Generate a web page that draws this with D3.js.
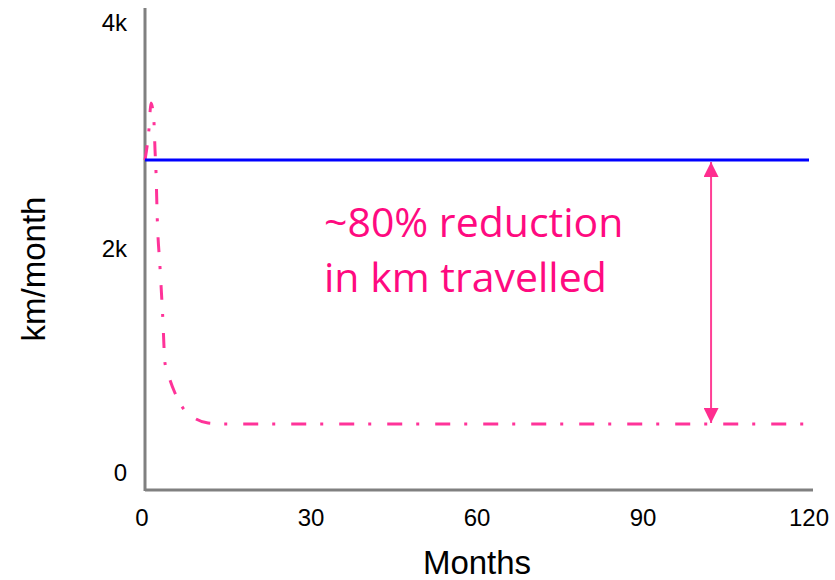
<!DOCTYPE html>
<meta charset="utf-8">
<style>
    body {margin: 0; background: #fff;}
    svg text {font-family: 'Liberation Sans', Arial, sans-serif;}
</style>
<svg width="835" height="580"></svg>
<script src="https://d3js.org/d3.v7.min.js"></script>
<script>

// baseline (before) travel, km/month
var baselineMonths = [0, 120];
var baselineKm = [2739, 2739];

// after the change: short spike, then drops to a plateau
var afterMonths = [0, 0.72, 1.08, 1.63, 1.81, 1.99, 2.22, 2.71, 3.19, 3.61, 4.52, 5.42, 6.87, 9.22, 11.39, 14.6, 120];
var afterKm =     [2739, 2996, 3212, 3045, 2822, 2639, 2249, 1851, 1452, 1054, 913, 805, 680, 589, 556, 548, 548];

var xTicks = [0, 30, 60, 90, 120];
var yTicks = [0, 2000, 4000];
var yTickLabels = ["0", "2k", "4k"];

var arrowMonth = 102.3;
var noteLines = ["~80% reduction", "in km travelled"];

var svg = d3.select("svg");

var x = d3.scaleLinear().domain([0, 120]).range([145, 809]);
var y = d3.scaleLinear().domain([0, 4000]).range([490, 8]);

svg.append('defs').selectAll('marker')
    .data(['arrowStart', 'arrowEnd'])
    .enter().append('marker')
    .attr('id', function(d) { return d; })
    .attr('viewBox', '0 -5 10 10')
    .attr('refX', 10)
    .attr('refY', 0)
    .attr('orient', function(d) { return d == 'arrowStart' ? 'auto-start-reverse' : 'auto'; })
    .attr('markerUnits', 'userSpaceOnUse')
    .attr('markerWidth', 15)
    .attr('markerHeight', 15)
    .append('path')
    .attr('d', 'M0,-5L10,0L0,5Z')
    .attr('fill', '#ff2d8f');

// axes (plain lines, no tick marks)
var axisG = svg.append("g").attr("stroke", "#808080").attr("stroke-width", 3);
axisG.append("line")
    .attr("x1", x(0)).attr("x2", x(0))
    .attr("y1", y(0) + 1).attr("y2", y(4000));
axisG.append("line")
    .attr("x1", x(0)).attr("x2", x(120) + 4)
    .attr("y1", y(0)).attr("y2", y(0));

svg.append("g").selectAll("text")
    .data(xTicks)
    .enter().append("text")
    .attr("x", function(d) { return x(d) - (d == 0 ? 3 : 0); })
    .attr("y", 526)
    .attr("text-anchor", "middle")
    .style("font-size", "24px")
    .text(function(d) { return d; });

svg.append("g").selectAll("text")
    .data(yTicks)
    .enter().append("text")
    .attr("x", 127)
    .attr("y", function(d) { return y(d) + (d == 0 ? -17 : d == 4000 ? 15 : 0); })
    .attr("dy", "0.35em")
    .attr("text-anchor", "end")
    .style("font-size", "24px")
    .text(function(d, i) { return yTickLabels[i]; });

svg.append("text")
    .attr("transform", "translate(45,269) rotate(-90)")
    .attr("text-anchor", "middle")
    .style("font-size", "33px")
    .text("km/month");

svg.append("text")
    .attr("x", 477)
    .attr("y", 574)
    .attr("text-anchor", "middle")
    .style("font-size", "33px")
    .text("Months");

var line = d3.line()
    .x(function(d) { return x(d[0]); })
    .y(function(d) { return y(d[1]); });

svg.append("path")
    .datum(d3.zip(afterMonths, afterKm))
    .attr("fill", "none")
    .attr("stroke", "#ff3399")
    .attr("stroke-width", 3)
    .attr("stroke-dasharray", "15,14,3,16")
    .attr("d", line.curve(d3.curveMonotoneX));

svg.append("path")
    .datum(d3.zip(baselineMonths, baselineKm))
    .attr("fill", "none")
    .attr("stroke", "#0000ff")
    .attr("stroke-width", 3)
    .attr("d", line.curve(d3.curveLinear));

// arrow between the two levels
svg.append("line")
    .attr("x1", x(arrowMonth)).attr("x2", x(arrowMonth))
    .attr("y1", y(baselineKm[1]) + 2).attr("y2", y(afterKm[afterKm.length - 1]) - 1)
    .attr("stroke", "#ff3f95")
    .attr("stroke-width", 2)
    .attr("marker-start", "url(#arrowStart)")
    .attr("marker-end", "url(#arrowEnd)");

svg.append("text")
    .attr("x", 324)
    .attr("y", 237)
    .style("font-family", "'Open Sans', Lato, sans-serif")
    .style("font-size", "41px")
    .style("fill", "#ff0a80")
    .selectAll("tspan")
    .data(noteLines)
    .enter().append("tspan")
    .attr("x", 324)
    .attr("dy", function(d, i) { return i == 0 ? 0 : 55; })
    .text(function(d) { return d; });

</script>
